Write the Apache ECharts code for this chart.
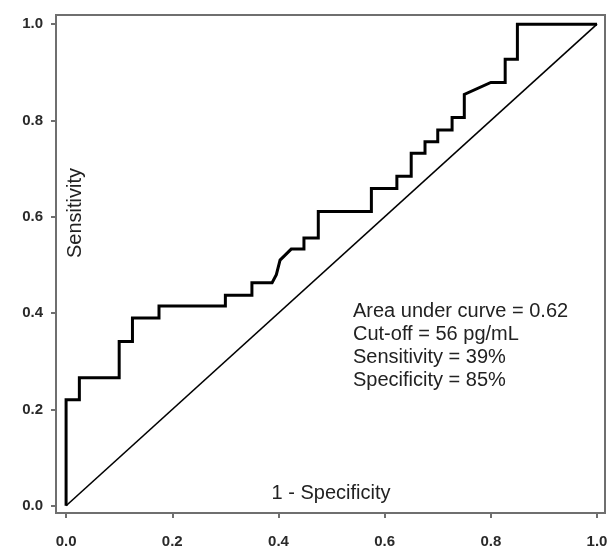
<!DOCTYPE html>
<html>
<head>
<meta charset="utf-8">
<script src="https://cdn.jsdelivr.net/npm/echarts@6/dist/echarts.min.js"></script>
<style>html,body{margin:0;padding:0;background:#fff;}#c{width:613px;height:552px;}</style>
</head>
<body>
<div id="c"></div>
<script>
// ROC curve (1 - specificity, sensitivity)
const fpr = [0, 0, 0.025, 0.025, 0.100, 0.100, 0.125, 0.125, 0.175, 0.175, 0.300, 0.300, 0.350, 0.350, 0.388, 0.396, 0.403, 0.424, 0.448, 0.448, 0.475, 0.475, 0.575, 0.575, 0.623, 0.623, 0.650, 0.650, 0.676, 0.676, 0.700, 0.700, 0.727, 0.727, 0.750, 0.750, 0.800, 0.827, 0.827, 0.850, 0.850, 1.0];
const tpr = [0, 0.220, 0.220, 0.266, 0.266, 0.341, 0.341, 0.390, 0.390, 0.415, 0.415, 0.437, 0.437, 0.463, 0.463, 0.480, 0.510, 0.533, 0.533, 0.556, 0.556, 0.611, 0.611, 0.659, 0.659, 0.684, 0.684, 0.732, 0.732, 0.756, 0.756, 0.780, 0.780, 0.806, 0.806, 0.854, 0.879, 0.879, 0.927, 0.927, 1.0, 1.0];
const refLine = [[0, 0], [1, 1]];
const tickValues = [0, 0.2, 0.4, 0.6, 0.8, 1.0];
const xTitle = '1 - Specificity';
const yTitle = 'Sensitivity';
const annotation = ['Area under curve = 0.62', 'Cut-off = 56 pg/mL', 'Sensitivity = 39%', 'Specificity = 85%'];

const roc = fpr.map((x, i) => [x, tpr[i]]);
const chart = echarts.init(document.getElementById('c'), null, {renderer: 'canvas'});
const font = '"Liberation Sans", Arial, sans-serif';
const axisCommon = {
  type: 'value',
  axisLine: {show: true, onZero: false, lineStyle: {color: '#6f6f6f', width: 2}},
  axisTick: {show: true, length: 5, lineStyle: {color: '#6f6f6f', width: 2}, customValues: tickValues},
  splitLine: {show: false},
  axisLabel: {customValues: tickValues, formatter: v => v.toFixed(1), color: '#2a2a2a', fontWeight: 'bold', fontSize: 15, fontFamily: font}
};
chart.setOption({
  animation: false,
  backgroundColor: '#fff',
  grid: {left: 56, right: 8, top: 15, bottom: 39, show: true, borderColor: '#6f6f6f', borderWidth: 2, containLabel: false},
  xAxis: Object.assign({}, axisCommon, {min: -0.019, max: 1.015, axisLabel: Object.assign({}, axisCommon.axisLabel, {margin: 21})}),
  yAxis: Object.assign({}, axisCommon, {min: -0.015, max: 1.019, axisLabel: Object.assign({}, axisCommon.axisLabel, {margin: 13})}),
  series: [
    {type: 'line', data: refLine, symbol: 'none', lineStyle: {color: '#000', width: 1.6}, z: 2},
    {type: 'line', data: roc, symbol: 'none', lineStyle: {color: '#000', width: 3, join: 'miter'}, z: 3}
  ],
  graphic: [
    {type: 'text', x: 331, y: 493, style: {text: xTitle, font: '20px ' + font, fill: '#222', align: 'center', verticalAlign: 'middle'}},
    {type: 'text', x: 75, y: 213, rotation: Math.PI / 2, style: {text: yTitle, font: '20px ' + font, fill: '#222', align: 'center', verticalAlign: 'middle'}},
    {type: 'text', x: 353, y: 300, style: {text: annotation.join('\n'), font: '20px ' + font, lineHeight: 23, fill: '#222', align: 'left', verticalAlign: 'top'}}
  ]
});
</script>
</body>
</html>
